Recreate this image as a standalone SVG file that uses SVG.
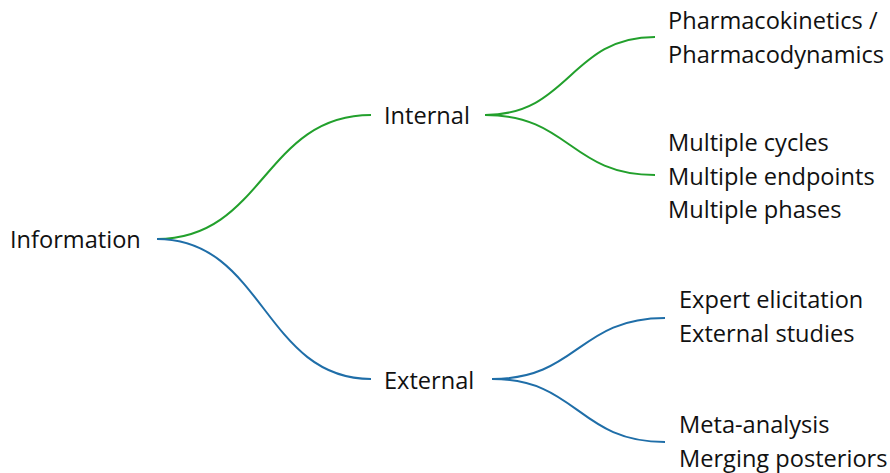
<svg xmlns="http://www.w3.org/2000/svg" width="890" height="473" viewBox="0 0 890 473">
<style>
text{font-family:"Open Sans","Noto Sans",sans-serif;font-size:23.6px;fill:#111}
.g{fill:none;stroke:#22a02c;stroke-width:2}
.b{fill:none;stroke:#1f6ea8;stroke-width:2}
</style>
<rect width="890" height="473" fill="#fff"/>
<g id="connectors">
<path class="g" d="M157 239 C264 239 264 115 371 115"/>
<path class="b" d="M157 239 C264 239 264 379 371 379"/>
<path class="g" d="M485 115 C570 115 570 37 655 37"/>
<path class="g" d="M485 115 C570 115 570 175 655 175"/>
<path class="b" d="M492 379 C578 379 578 318 665 318"/>
<path class="b" d="M492 379 C578 379 578 442 665 442"/>
</g>
<g id="information"><text x="10" y="248">Information</text></g>
<g id="internal"><text x="384" y="124">Internal</text></g>
<g id="external"><text x="384" y="389">External</text></g>
<g id="pkpd"><text x="668" y="29">Pharmacokinetics /</text><text x="668" y="63">Pharmacodynamics</text></g>
<g id="multiple"><text x="668" y="151">Multiple cycles</text><text x="668" y="185">Multiple endpoints</text><text x="668" y="218">Multiple phases</text></g>
<g id="expert"><text x="679" y="308">Expert elicitation</text><text x="679" y="342">External studies</text></g>
<g id="meta"><text x="679" y="433">Meta-analysis</text><text x="679" y="467">Merging posteriors</text></g>
</svg>
